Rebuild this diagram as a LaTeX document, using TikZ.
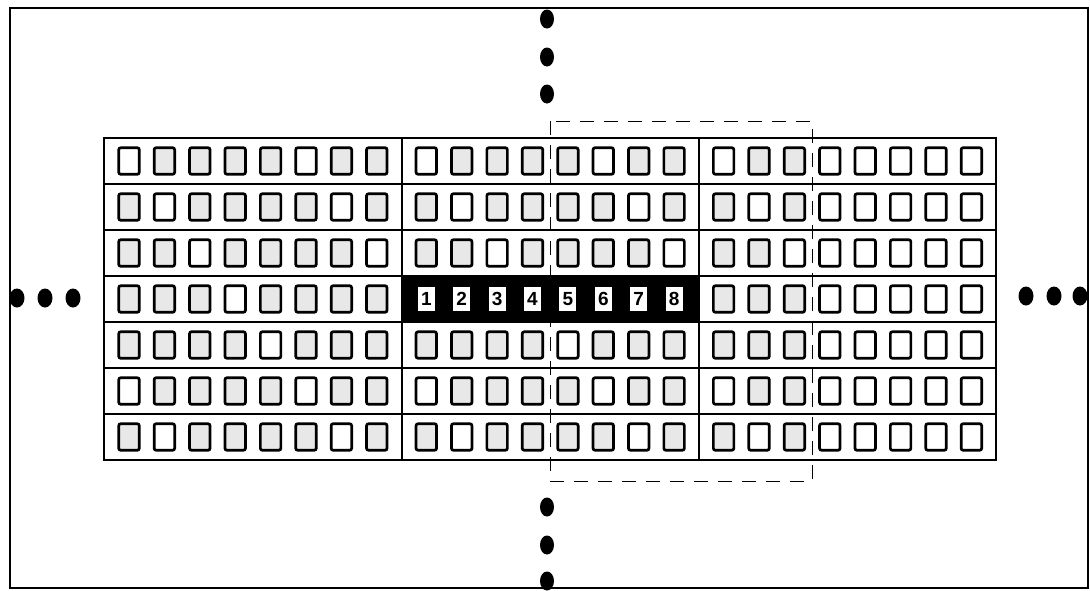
\documentclass[tikz,border=0pt]{standalone}
\usepackage{fontspec}
\newfontfamily\digitfont{Liberation Sans}
\begin{document}
\begin{tikzpicture}[x=1pt,y=-1pt,
  framebox/.style={line width=1.1pt},
  gridline/.style={line width=1.4pt},
  cellbox/.style={draw, line width=2.7pt, rounded corners=2pt, minimum width=20.5pt, minimum height=26.5pt, inner sep=0pt},
  numbox/.style={fill=white, minimum width=17pt, minimum height=24pt, inner sep=0pt, font=\digitfont\bfseries\fontsize{19}{19}\selectfont},
  dot/.style={fill=black},
  dashbox/.style={dash pattern=on 14pt off 10pt, line width=0.8pt}
]
\useasboundingbox (0,0) rectangle (1090,590);
% outer frame
\draw[framebox] (10,8) rectangle (1088,588);
% dashed window
\draw[dashbox] (550,121) rectangle (812,481);
% grid
\draw[gridline, line width=1.8pt] (104,138) coordinate (g-tl) rectangle (996,460) coordinate (g-br);
\foreach \r in {1,...,6} {
  \draw[gridline] (104,{138+46*\r}) -- (996,{138+46*\r});
}
\draw[gridline] (402,138) -- (402,460);
\draw[gridline] (699,138) -- (699,460);
% highlighted row
\fill (402,276) rectangle (699,322);
% cells
\foreach \r in {0,...,6} {
  \foreach \b in {0,1,2} {
    \foreach \c in {0,...,7} {
      \pgfmathsetmacro{\cx}{129+297.3*\b+35.4*\c}
      \pgfmathsetmacro{\cy}{161+46*\r}
      \pgfmathtruncatemacro{\isnum}{(\r==3)&&(\b==1)}
      \pgfmathtruncatemacro{\iswhite}{or(mod(\r*7+\c*3+\b*5,5)==0, and(\b==2,\c>=3))}
      \ifnum\isnum=1
        \pgfmathtruncatemacro{\n}{\c+1}
        \node[numbox] (n-\n) at (\cx,\cy) {\n};
      \else
        \ifnum\iswhite=1
          \node[cellbox, fill=white] (s-\r-\b-\c) at (\cx,\cy) {};
        \else
          \node[cellbox, fill=gray!18] (s-\r-\b-\c) at (\cx,\cy) {};
        \fi
      \fi
    }
  }
}
% ellipsis dots
\foreach \y [count=\i] in {19,57,94} { \fill[dot] (547,\y) coordinate (t-\i) ellipse (7 and 9.5); }
\foreach \y [count=\i] in {507,545,581} { \fill[dot] (547,\y) coordinate (b-\i) ellipse (7 and 9.5); }
\foreach \x [count=\i] in {17,45,73} { \fill[dot] (\x,298) coordinate (l-\i) ellipse (7.5 and 9.5); }
\foreach \x [count=\i] in {1026,1054,1080} { \fill[dot] (\x,296) coordinate (r-\i) ellipse (7.5 and 9.5); }
\end{tikzpicture}
\end{document}
